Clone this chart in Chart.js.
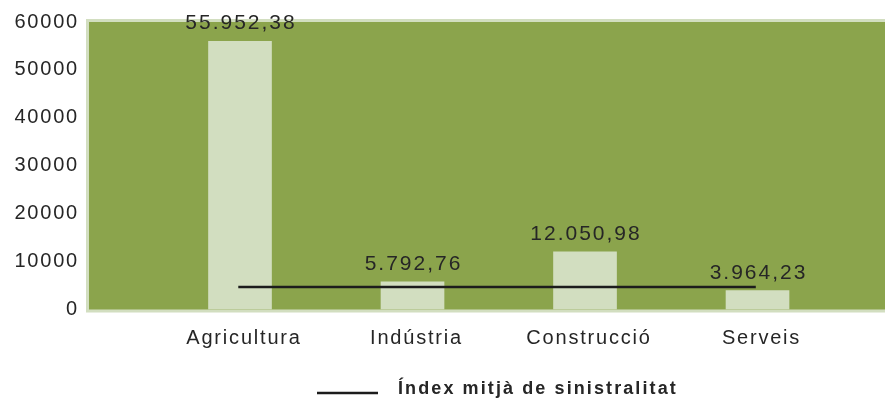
<!DOCTYPE html>
<html>
<head>
<meta charset="utf-8">
<script src="https://cdn.jsdelivr.net/npm/chart.js@4"></script>
<style>
  html, body { margin: 0; padding: 0; background: #fff; }
  #wrap { width: 885px; height: 398px; }
</style>
</head>
<body>
<div id="wrap"><canvas id="grafic"></canvas></div>
<script>
const sectors = ['Agricultura', 'Indústria', 'Construcció', 'Serveis'];
const valors = [55952.38, 5792.76, 12050.98, 3964.23];
const etiquetes = ['55.952,38', '5.792,76', '12.050,98', '3.964,23'];
const indexMitja = [4700, 4700];
const yTicks = ['0', '10000', '20000', '30000', '40000', '50000', '60000'];
const llegenda = 'Índex mitjà de sinistralitat';

const verd = '#8ba44c';
const clar = '#d2dec0';
const text = '#262626';

Chart.defaults.font.family = '"Liberation Sans", Arial, sans-serif';
Chart.defaults.color = text;

// espaiat de lletres com a l'original
const espaiat = {
    id: 'espaiat',
    beforeLayout(chart) { chart.ctx.letterSpacing = '1.8px'; },
    beforeDraw(chart) { chart.ctx.letterSpacing = '1.8px'; }
};

// fons verd de l'àrea del gràfic amb vora clara
const fons = {
    id: 'fons',
    beforeDatasetsDraw(chart) {
        const { ctx, chartArea: a } = chart;
        ctx.save();
        ctx.fillStyle = clar;
        ctx.fillRect(a.left - 3, a.top - 3, a.right - a.left + 3, a.bottom - a.top + 6);
        ctx.fillStyle = verd;
        ctx.fillRect(a.left, a.top, a.right - a.left, a.bottom - a.top);
        ctx.restore();
    }
};

// valors damunt de les barres
const valorsBarres = {
    id: 'valorsBarres',
    afterDatasetsDraw(chart) {
        const { ctx } = chart;
        const meta = chart.getDatasetMeta(0);
        ctx.save();
        ctx.font = '21px "Liberation Sans", Arial, sans-serif';
        ctx.letterSpacing = '2px';
        ctx.fillStyle = text;
        ctx.textAlign = 'center';
        ctx.textBaseline = 'alphabetic';
        meta.data.forEach((bar, i) => {
            ctx.fillText(etiquetes[i], bar.x + 1, bar.y - 12);
        });
        ctx.restore();
    }
};

// llegenda a sota: mostra de línia i text
const llegendaLinia = {
    id: 'llegendaLinia',
    afterDraw(chart) {
        const { ctx } = chart;
        const ds = chart.data.datasets[1];
        ctx.save();
        ctx.strokeStyle = ds.borderColor;
        ctx.lineWidth = 2.5;
        ctx.beginPath();
        ctx.moveTo(317, 393);
        ctx.lineTo(378, 393);
        ctx.stroke();
        ctx.font = 'bold 18px "Liberation Sans", Arial, sans-serif';
        ctx.letterSpacing = '2.1px';
        ctx.fillStyle = text;
        ctx.textAlign = 'left';
        ctx.textBaseline = 'alphabetic';
        ctx.fillText(ds.label, 398, 394);
        ctx.restore();
    }
};

new Chart(document.getElementById('grafic'), {
    type: 'bar',
    data: {
        datasets: [{
            label: 'Sinistralitat per sector',
            data: valors.map((v, i) => ({ x: i, y: v })),
            backgroundColor: clar,
            borderWidth: 0,
            barThickness: 63,
            order: 2
        }, {
            type: 'line',
            label: llegenda,
            data: indexMitja.map((v, i) => ({ x: i * (sectors.length - 1) - 0.01, y: v })),
            borderColor: '#1c1c1c',
            borderWidth: 2.5,
            pointRadius: 0,
            fill: false,
            order: 1
        }]
    },
    options: {
        responsive: true,
        maintainAspectRatio: false,
        animation: false,
        layout: { padding: { top: 20, right: 0, bottom: 0, left: 0 } },
        plugins: {
            legend: { display: false },
            tooltip: { enabled: false }
        },
        scales: {
            x: {
                type: 'linear',
                min: -0.8754,
                max: 3.739,
                offset: false,
                grid: { display: false },
                border: { display: false },
                afterBuildTicks(scale) {
                    scale.ticks = sectors.map((s, i) => ({ value: i }));
                },
                afterFit(scale) { scale.height = 88.5; },
                ticks: {
                    padding: 9,
                    labelOffset: 4,
                    maxRotation: 0,
                    font: { size: 20 },
                    callback: (v) => sectors[v]
                }
            },
            y: {
                min: 0,
                max: 60000,
                grid: { display: false, drawTicks: false },
                border: { display: false },
                afterFit(scale) { scale.width = 89; },
                ticks: {
                    stepSize: 10000,
                    padding: 10,
                    font: { size: 20 },
                    callback: (v) => yTicks[v / 10000]
                }
            }
        }
    },
    plugins: [espaiat, fons, valorsBarres, llegendaLinia]
});
</script>
</body>
</html>
